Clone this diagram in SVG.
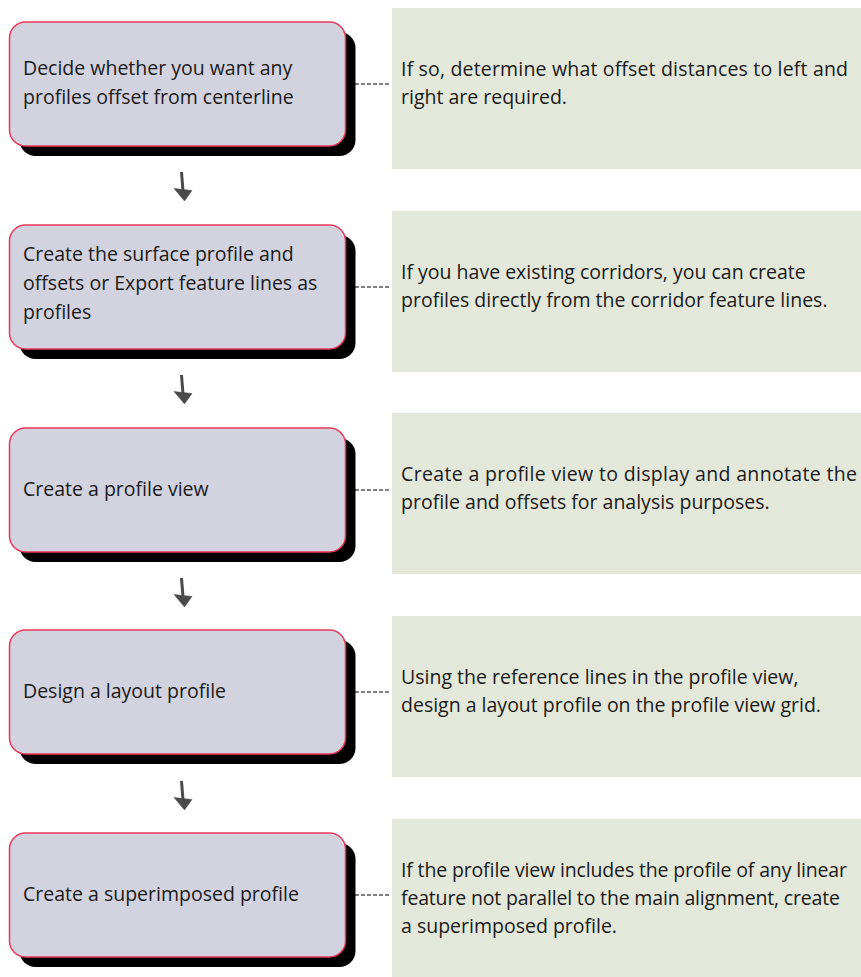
<svg xmlns="http://www.w3.org/2000/svg" width="861" height="977" viewBox="0 0 861 977">
<defs>
<style>
.shadow{fill:#000}
.box{fill:#d3d3df;stroke:#e8385a;stroke-width:1.5}
.panel{fill:#e4e8da}
.t{font-family:"Open Sans","Noto Sans","DejaVu Sans",sans-serif;font-size:19.5px;fill:#1a1a1a}
.dash{stroke:#000;stroke-width:1;stroke-dasharray:4 2;fill:none}
.arr{fill:#4a4a4a;stroke:#4a4a4a}
</style>
<g id="arrowShape">
<path d="M181.5,172 L183,191" stroke-width="3" fill="none"/>
<path d="M174,188.5 L192,190.5 L184.5,201 Z" stroke-width="0.5"/>
</g>
</defs>
<rect width="861" height="977" fill="#fff"/>

<g id="panel1"><rect class="panel" x="392" y="8" width="469" height="161"/>
<text class="t" x="401" y="76" textLength="447" lengthAdjust="spacing">If so, determine what offset distances to left and</text>
<text class="t" x="401" y="104">right are required.</text></g>
<g id="panel2"><rect class="panel" x="392" y="211" width="469" height="161"/>
<text class="t" x="401" y="279">If you have existing corridors, you can create</text>
<text class="t" x="401" y="307">profiles directly from the corridor feature lines.</text></g>
<g id="panel3"><rect class="panel" x="392" y="413" width="469" height="161"/>
<text class="t" x="401" y="481" textLength="456" lengthAdjust="spacing">Create a profile view to display and annotate the</text>
<text class="t" x="401" y="509">profile and offsets for analysis purposes.</text></g>
<g id="panel4"><rect class="panel" x="392" y="616" width="469" height="161"/>
<text class="t" x="401" y="684">Using the reference lines in the profile view,</text>
<text class="t" x="401" y="712">design a layout profile on the profile view grid.</text></g>
<g id="panel5"><rect class="panel" x="392" y="819" width="469" height="161"/>
<text class="t" x="401" y="877" textLength="446" lengthAdjust="spacing">If the profile view includes the profile of any linear</text>
<text class="t" x="401" y="905" textLength="439" lengthAdjust="spacing">feature not parallel to the main alignment, create</text>
<text class="t" x="401" y="933">a superimposed profile.</text></g>

<g id="step1"><rect class="shadow" x="19.5" y="32" width="336" height="124" rx="16"/>
<rect class="box" x="9.5" y="22" width="336" height="124" rx="16"/>
<text class="t" x="23" y="75">Decide whether you want any</text>
<text class="t" x="23" y="104">profiles offset from centerline</text></g>
<g id="step2"><rect class="shadow" x="19.5" y="235" width="336" height="124" rx="16"/>
<rect class="box" x="9.5" y="225" width="336" height="124" rx="16"/>
<text class="t" x="23" y="261">Create the surface profile and</text>
<text class="t" x="23" y="290">offsets or Export feature lines as</text>
<text class="t" x="23" y="319">profiles</text></g>
<g id="step3"><rect class="shadow" x="19.5" y="438" width="336" height="124" rx="16"/>
<rect class="box" x="9.5" y="428" width="336" height="124" rx="16"/>
<text class="t" x="23" y="496">Create a profile view</text></g>
<g id="step4"><rect class="shadow" x="19.5" y="640" width="336" height="124" rx="16"/>
<rect class="box" x="9.5" y="630" width="336" height="124" rx="16"/>
<text class="t" x="23" y="698">Design a layout profile</text></g>
<g id="step5"><rect class="shadow" x="19.5" y="843" width="336" height="124" rx="16"/>
<rect class="box" x="9.5" y="833" width="336" height="124" rx="16"/>
<text class="t" x="23" y="901">Create a superimposed profile</text></g>

<g id="connectors">
<path class="dash" d="M355,84 H391"/>
<path class="dash" d="M355,287 H391"/>
<path class="dash" d="M355,490 H391"/>
<path class="dash" d="M355,692 H391"/>
<path class="dash" d="M355,895 H391"/>
<use href="#arrowShape" class="arr"/>
<use href="#arrowShape" class="arr" transform="translate(0,203)"/>
<use href="#arrowShape" class="arr" transform="translate(0,406)"/>
<use href="#arrowShape" class="arr" transform="translate(0,609)"/>
</g>
</svg>
